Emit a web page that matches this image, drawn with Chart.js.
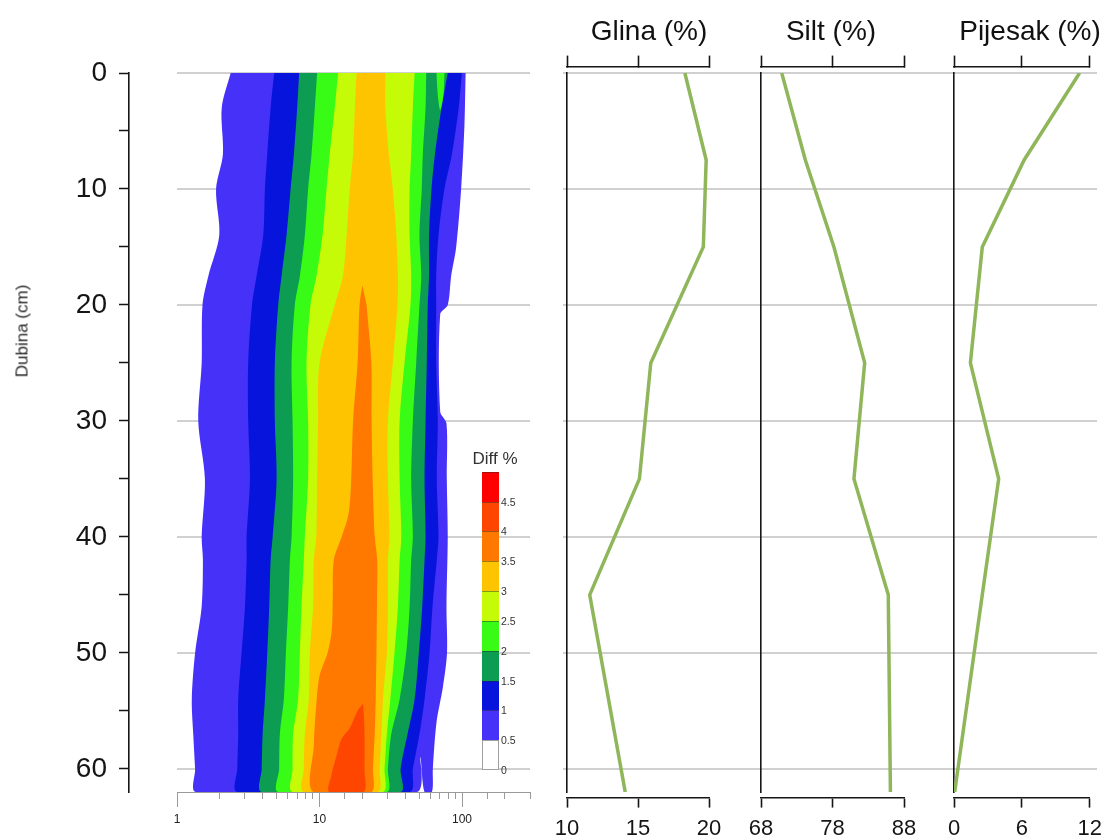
<!DOCTYPE html>
<html lang="hr">
<head>
<meta charset="utf-8">
<title>Diff % i tekstura tla po dubini</title>
<script src="https://cdn.jsdelivr.net/npm/chart.js@4.4.1/dist/chart.umd.min.js"></script>
<style>
  html, body { margin: 0; padding: 0; background: #fff; }
  #fig { position: relative; width: 1111px; height: 838px; overflow: hidden;
         font-family: "Liberation Sans", Arial, sans-serif; color: #111; }
  #fig canvas { position: absolute; left: 0; top: 0; }
  .txt { position: absolute; white-space: nowrap; transform: translate(-50%, -50%); line-height: 1; }
  .panel-title { font-size: 28px; color: #111; }
  #y-title { font-size: 17px; color: #2a2a2a; transform: translate(-50%, -50%) rotate(-90deg); }
  #cbar-title { font-size: 17px; color: #333; }
  .cb-cell { position: absolute; box-sizing: border-box; border-top: 1px solid rgba(40,40,40,0.45); }
  .cb-lbl { position: absolute; font-size: 10.5px; color: #333; transform: translateY(-50%); line-height: 1; }
</style>
</head>
<body>
<div id="fig">
  <canvas id="cv-yaxis" width="1111" height="838"></canvas>
  <canvas id="cv-contour" width="1111" height="838"></canvas>
  <canvas id="cv-grid" width="1111" height="838"></canvas>
  <canvas id="cv-glina" width="1111" height="838"></canvas>
  <canvas id="cv-silt" width="1111" height="838"></canvas>
  <canvas id="cv-pijesak" width="1111" height="838"></canvas>
  <div id="y-title" class="txt" style="left:22px; top:331px;">Dubina (cm)</div>
  <div class="txt panel-title" style="left:649px; top:31px;">Glina (%)</div>
  <div class="txt panel-title" style="left:831px; top:31px;">Silt (%)</div>
  <div class="txt panel-title" style="left:1030px; top:31px;">Pijesak (%)</div>
  <div id="cbar-title" class="txt" style="left:495px; top:458px;">Diff %</div>
  <div id="cbar"></div>
</div>
<script>
/* ===== DATA ===== */
// depth axis (cm)
const depthMax = 62;
const depthTickStep = 5;      // labels only on multiples of 10
const gridStep = 10;

// contour: Diff % levels and colours
const bandLevels = [0, 0.5, 1, 1.5, 2, 2.5, 3, 3.5, 4, 4.5];
const bandColors = ["#FFFFFF", "#4531F8", "#0614DC", "#0C9D52", "#38FC16",
                    "#C6FB08", "#FFC400", "#FF7800", "#FF4600", "#FF0000"];

// contour boundaries: particle size (x, log) where Diff % crosses a level, per depth
const edgeDepths = [0, 3, 7, 10, 14, 17.5, 20, 25, 30, 35, 40, 42, 46, 50, 54, 57, 60, 62];

const edge05Left = [2.38, 2.06, 2.10, 1.88, 1.98, 1.66, 1.51, 1.49, 1.41, 1.57, 1.49, 1.52, 1.49, 1.34, 1.27, 1.30, 1.34, 1.36];
const edge10Left = [4.81, 4.54, 4.30, 4.14, 4.03, 3.62, 3.36, 3.16, 3.16, 3.25, 3.08, 3.08, 3.00, 2.84, 2.69, 2.69, 2.65, 2.65];
const edge15Left = [7.20, 6.97, 6.61, 6.27, 5.87, 5.42, 5.13, 4.86, 4.86, 5.00, 4.69, 4.54, 4.44, 4.30, 4.14, 3.99, 3.93, 3.93];
const edge20Left = [9.62, 9.27, 8.79, 8.32, 7.89, 7.28, 6.71, 6.37, 6.47, 6.53, 6.37, 6.20, 6.03, 5.81, 5.62, 5.27, 5.21, 5.13];
const edge25Left = [13.5, 12.8, 11.8, 11.2, 10.5, 9.53, 8.65, 8.11, 8.32, 8.32, 7.89, 7.76, 7.48, 7.28, 7.08, 6.53, 6.47, 6.47];
const edge30Left = [18.2, 17.7, 17.2, 16.3, 15.5, 14.6, 12.8, 10.0, 9.78, 9.62, 9.50, 9.12, 9.02, 8.55, 8.41, 7.89, 7.76, 7.76];

const edge30Right = [29.0, 29.0, 30.7, 32.7, 34.6, 35.5, 35.3, 32.7, 30.2, 30.2, 31.0, 30.2, 30.2, 29.7, 27.9, 27.2, 26.4, 25.7];
const edge25Right = [46.5, 45.2, 44.0, 42.9, 42.9, 44.0, 43.5, 39.5, 36.5, 36.5, 37.5, 36.5, 35.5, 33.6, 31.4, 29.7, 28.6, 27.9];
const edge20Right = [56.1, 55.5, 53.1, 52.2, 50.3, 51.8, 50.3, 47.7, 45.2, 44.0, 45.2, 44.0, 42.9, 40.6, 36.5, 31.9, 30.2, 29.7];
const edge15Right = [79.4, 71.8, 64.6, 61.1, 58.7, 58.7, 57.5, 56.6, 55.5, 54.6, 55.5, 54.6, 52.6, 49.8, 46.5, 41.5, 37.1, 37.1];
const edge10Right = [99.8, 94.8, 85.0, 75.3, 68.4, 65.9, 65.9, 65.9, 67.6, 66.5, 68.4, 66.5, 62.1, 59.2, 54.6, 50.3, 45.2, 42.9];

// outer (0.5) edge on the right has its own depths, plus the gap at the bottom
const edge05RightDepths = [0, 4.5, 10, 15, 17.5, 20, 20.8, 29.2, 30.2, 35, 40, 46, 50, 53, 56, 60, 62];
const edge05Right = [106, 104, 98.6, 91.0, 83.9, 79.4, 70.3, 70.3, 77.8, 78.2, 79.4, 77.8, 78.5, 73.3, 66.2, 62.4, 61.5];
const notch05Depths = [62, 59, 62];
const notch05 = [48.2, 51.0, 54.6];

// small 2 % island near the top, right side
const patch20Depths = [0, 1.9, 3.2, 1.9, 0];
const patch20 = [66.2, 67.6, 70.3, 74.1, 75.3];

// 3.5 % core
const edge35LeftDepths = [18.3, 20, 25, 30, 35, 38, 40, 42, 45, 48, 50, 52, 55, 58, 62];
const edge35Left = [20.0, 19.1, 18.5, 17.2, 16.7, 16.0, 14.3, 12.6, 12.4, 12.2, 11.4, 10.0, 9.42, 9.12, 9.02];
const edge35RightDepths = [20, 25, 30, 35, 40, 42, 46, 50, 54, 57, 60, 62];
const edge35Right = [21.4, 23.1, 23.2, 23.6, 24.4, 25.4, 25.3, 25.1, 24.8, 24.4, 23.7, 23.1];

// 4 % core at the bottom
const edge40LeftDepths = [54.4, 55, 56.5, 57.4, 58.8, 60.6, 62];
const edge40Left = [20.2, 18.5, 16.3, 14.3, 13.2, 12.1, 11.7];
const edge40RightDepths = [55.5, 57, 60, 62];
const edge40Right = [20.5, 20.7, 20.7, 20.4];

// log x axis of the contour
const sizeMin = 1;
const sizeMax = 300;
const sizeTicks = [1, 10, 100];

// texture profiles
const profileDepths = [0, 7.5, 15, 25, 35, 45, 62];
const glina = [18.3, 19.8, 19.6, 15.9, 15.1, 11.6, 14.1];
const silt = [70.9, 74.2, 78.2, 82.5, 81.0, 85.8, 86.1];
const pijesak = [11.1, 6.2, 2.5, 1.45, 3.95, 2.5, 0.06];
const glinaTicks = [10, 15, 20];
const siltTicks = [68, 78, 88];
const pijesakTicks = [0, 6, 12];

/* ===== LAYOUT ===== */
const W = 1111, H = 838;
const PLOT_TOP = 73, PLOT_BOTTOM = 792;
const pxPerCm = (PLOT_BOTTOM - PLOT_TOP) / depthMax;
const bottomBracket = depthMax + 5.5 / pxPerCm;   // bottom axes sit a little below the plot
const topBracket = -6 / pxPerCm;                  // top axes sit a little above it
const INK = "#151515";
const GRID = "#D0D0D0";
const LINE = "#8FB65A";

Chart.defaults.font.family = '"Liberation Sans", Arial, sans-serif';
Chart.defaults.animation = false;
Chart.defaults.responsive = false;
Chart.defaults.events = [];
Chart.defaults.plugins.legend.display = false;
Chart.defaults.plugins.tooltip.enabled = false;

/* ===== HELPERS ===== */
function outline(lDepth, lVal, rDepth, rVal, midDepth = [], midVal = []) {
  const pts = lDepth.map((d, i) => ({ x: lVal[i], y: d }));
  midDepth.forEach((d, i) => pts.push({ x: midVal[i], y: d }));
  for (let i = rDepth.length - 1; i >= 0; i--) pts.push({ x: rVal[i], y: rDepth[i] });
  return pts;
}

function hiddenDepthAxis(extra) {
  return Object.assign({
    type: "linear", reverse: true, min: 0, max: depthMax, position: "left",
    afterFit: (s) => { s.width = 0; },
    ticks: { display: false, stepSize: gridStep, includeBounds: false },
    grid: { display: false },
    border: { display: false },
  }, extra);
}

/* ===== DEPTH AXIS (left) ===== */
new Chart(document.getElementById("cv-yaxis"), {
  type: "line",
  data: { datasets: [] },
  options: {
    layout: { padding: { left: 0, right: W - 140, top: PLOT_TOP, bottom: H - PLOT_BOTTOM } },
    scales: {
      x: { type: "linear", display: false, min: 0, max: 1 },
      y: {
        type: "linear", reverse: true, min: 0, max: depthMax, position: "left",
        afterFit: (s) => { s.width = 129; },
        ticks: {
          stepSize: depthTickStep, includeBounds: false, padding: 12, color: INK,
          font: { size: 28 },
          callback: (v) => (v % 10 === 0 ? v : ""),
        },
        grid: { drawOnChartArea: false, tickLength: 10, tickColor: INK, tickWidth: 1.5 },
        border: { color: INK, width: 1.6 },
      },
    },
  },
});

/* ===== CONTOUR ===== */
const contourShapes = [
  { level: 0.5, pts: outline(edgeDepths, edge05Left, edge05RightDepths, edge05Right, notch05Depths, notch05) },
  { level: 1, pts: outline(edgeDepths, edge10Left, edgeDepths, edge10Right) },
  { level: 1.5, pts: outline(edgeDepths, edge15Left, edgeDepths, edge15Right) },
  { level: 2, pts: outline(edgeDepths, edge20Left, edgeDepths, edge20Right) },
  { level: 2, pts: outline(patch20Depths, patch20, [], []) },
  { level: 2.5, pts: outline(edgeDepths, edge25Left, edgeDepths, edge25Right) },
  { level: 3, pts: outline(edgeDepths, edge30Left, edgeDepths, edge30Right) },
  { level: 3.5, pts: outline(edge35LeftDepths, edge35Left, edge35RightDepths, edge35Right) },
  { level: 4, pts: outline(edge40LeftDepths, edge40Left, edge40RightDepths, edge40Right) },
];

new Chart(document.getElementById("cv-contour"), {
  type: "line",
  data: {
    datasets: contourShapes.map((s, i) => ({
      label: "Diff ≥ " + s.level + " %",
      data: s.pts,
      xAxisID: "x",
      yAxisID: "y",
      backgroundColor: bandColors[bandLevels.indexOf(s.level)],
      borderColor: "rgba(0,0,0,0)",
      borderWidth: 0,
      pointRadius: 0,
      tension: 0.3,
      fill: "shape",
      order: 50 - i,
    })),
  },
  options: {
    layout: { padding: { left: 177, right: W - 530, top: PLOT_TOP, bottom: H - PLOT_BOTTOM - 40 } },
    scales: {
      x: {
        type: "logarithmic", min: sizeMin, max: sizeMax, position: "bottom",
        afterFit: (s) => { s.height = 40; },
        afterBuildTicks: (s) => { s.ticks = sizeTicks.map((v) => ({ value: v })); },
        ticks: { color: "#222", font: { size: 12 }, padding: 5, maxRotation: 0, autoSkip: false, callback: (v) => String(v) },
        grid: { drawOnChartArea: false, tickLength: 15, tickColor: "#9A9A9A", tickWidth: 1 },
        border: { color: "#9A9A9A", width: 1 },
      },
      xMinor: {
        axis: "x", type: "logarithmic", min: sizeMin, max: sizeMax, position: { y: depthMax },
        ticks: { display: false },
        grid: { drawOnChartArea: false, tickLength: 7, tickColor: "#9A9A9A", tickWidth: 1 },
        border: { display: false },
      },
      y: hiddenDepthAxis({
        z: 1,
        grid: { display: true, drawTicks: false, color: GRID, lineWidth: 2 },
      }),
    },
  },
});

/* ===== GRID BEHIND THE PROFILES ===== */
new Chart(document.getElementById("cv-grid"), {
  type: "line",
  data: { datasets: [] },
  options: {
    layout: { padding: { left: 563, right: W - 1097, top: PLOT_TOP, bottom: H - PLOT_BOTTOM } },
    scales: {
      x: { type: "linear", display: false, min: 0, max: 1 },
      y: hiddenDepthAxis({ grid: { display: true, drawTicks: false, color: GRID, lineWidth: 2 } }),
    },
  },
});

/* ===== PROFILES ===== */
function profileChart(id, name, values, ticks, left, right) {
  const bracket = (pos, len, showLabels) => ({
    axis: "x", type: "linear", min: ticks[0], max: ticks[ticks.length - 1], position: { y: pos },
    afterBuildTicks: (s) => { s.ticks = ticks.map((v) => ({ value: v })); },
    ticks: { display: showLabels, color: INK, font: { size: 22 }, padding: 9, maxRotation: 0, autoSkip: false },
    grid: { drawOnChartArea: false, tickLength: len, tickColor: INK, tickWidth: 1.6 },
    border: { color: INK, width: 1.6 },
  });
  return new Chart(document.getElementById(id), {
    type: "line",
    data: {
      datasets: [{
        label: name,
        data: profileDepths.map((d, i) => ({ x: values[i], y: d })),
        xAxisID: "x",
        yAxisID: "y",
        borderColor: LINE,
        borderWidth: 3.5,
        pointRadius: 0,
        tension: 0,
        fill: false,
      }],
    },
    options: {
      layout: { padding: { left, right: W - right, top: PLOT_TOP, bottom: H - PLOT_BOTTOM } },
      scales: {
        x: bracket(bottomBracket, 9, true),
        xTop: bracket(topBracket, -12, false),
        y: hiddenDepthAxis({ border: { display: true, color: INK, width: 1.6 } }),
      },
    },
  });
}

profileChart("cv-glina", "Glina (%)", glina, glinaTicks, 567, 709);
profileChart("cv-silt", "Silt (%)", silt, siltTicks, 761, 904);
profileChart("cv-pijesak", "Pijesak (%)", pijesak, pijesakTicks, 954, 1095);

/* ===== COLOUR BAR (legend) ===== */
const cbar = document.getElementById("cbar");
const CB_LEFT = 482, CB_WIDTH = 17, CB_BOTTOM = 770, CB_STEP = 29.83;
bandLevels.forEach((lvl, i) => {
  const cell = document.createElement("div");
  cell.className = "cb-cell";
  cell.style.left = CB_LEFT + "px";
  cell.style.width = CB_WIDTH + "px";
  cell.style.top = (CB_BOTTOM - (i + 1) * CB_STEP) + "px";
  cell.style.height = CB_STEP + "px";
  cell.style.background = bandColors[i];
  if (i === 0) cell.style.border = "1px solid #A0A0A0";
  cbar.appendChild(cell);

  const lbl = document.createElement("div");
  lbl.className = "cb-lbl";
  lbl.style.left = (CB_LEFT + CB_WIDTH + 2) + "px";
  lbl.style.top = (CB_BOTTOM - i * CB_STEP) + "px";
  lbl.textContent = String(lvl);
  cbar.appendChild(lbl);
});
</script>
</body>
</html>
